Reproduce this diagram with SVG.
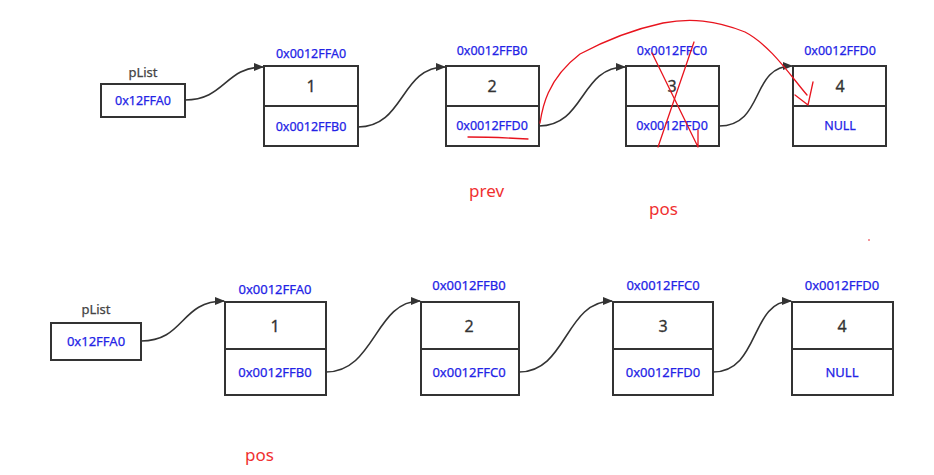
<svg xmlns="http://www.w3.org/2000/svg" width="934" height="475" viewBox="0 0 934 475">
<style>
.box{fill:#fff;stroke:#333;stroke-width:2}
.hex{font-family:"Noto Sans","Open Sans",sans-serif;font-size:12.5px;fill:#2323e6;text-anchor:middle;stroke:#2323e6;stroke-width:0.25}
.hb{font-size:13px}
.num{font-family:"Noto Sans","Open Sans",sans-serif;font-size:16px;fill:#333;text-anchor:middle;stroke:#333;stroke-width:0.3}
.lbl{font-family:"Noto Sans","Open Sans",sans-serif;font-size:13px;fill:#444;text-anchor:middle;stroke:#444;stroke-width:0.25}
.red{font-family:"Noto Sans","Open Sans",sans-serif;font-size:17px;fill:#f03030}
.con{fill:none;stroke:#333;stroke-width:1.6}
.ink{fill:none;stroke:#e8141e;stroke-width:1.3;stroke-linecap:round;stroke-linejoin:round}
</style>
<defs>
<marker id="ah" markerWidth="10" markerHeight="8" refX="9" refY="4" orient="auto" markerUnits="userSpaceOnUse">
<path d="M0,0 L10,4 L0,8 Z" fill="#333"/>
</marker>
</defs>

<!-- top row -->
<g id="t-plist">
<text class="lbl" x="143" y="77">pList</text>
<rect class="box" x="101" y="84" width="84" height="33"/>
<text class="hex" x="143" y="105">0x12FFA0</text>
</g>
<g id="t-n1">
<text class="hex" x="311" y="58">0x0012FFA0</text>
<rect class="box" x="264" y="66" width="94" height="80"/>
<line x1="264" y1="106" x2="358" y2="106" stroke="#333" stroke-width="2"/>
<text class="num" x="311" y="92">1</text>
<text class="hex" x="311" y="131">0x0012FFB0</text>
</g>
<g id="t-n2">
<text class="hex" x="492" y="55">0x0012FFB0</text>
<rect class="box" x="446" y="66" width="93" height="80"/>
<line x1="446" y1="106" x2="539" y2="106" stroke="#333" stroke-width="2"/>
<text class="num" x="492" y="92">2</text>
<text class="hex" x="492" y="130">0x0012FFD0</text>
</g>
<g id="t-n3">
<text class="hex" x="672" y="55">0x0012FFC0</text>
<rect class="box" x="626" y="66" width="93" height="80"/>
<line x1="626" y1="106" x2="719" y2="106" stroke="#333" stroke-width="2"/>
<text class="num" x="672" y="92">3</text>
<text class="hex" x="672" y="130">0x0012FFD0</text>
</g>
<g id="t-n4">
<text class="hex" x="840" y="55">0x0012FFD0</text>
<rect class="box" x="793" y="66" width="93" height="80"/>
<line x1="793" y1="106" x2="886" y2="106" stroke="#333" stroke-width="2"/>
<text class="num" x="840" y="92">4</text>
<text class="hex" x="840" y="130">NULL</text>
</g>

<!-- bottom row -->
<g id="b-plist">
<text class="lbl" x="96" y="314">pList</text>
<rect class="box" x="51" y="323" width="90" height="37"/>
<text class="hex hb" x="96" y="346">0x12FFA0</text>
</g>
<g id="b-n1">
<text class="hex hb" x="275" y="294">0x0012FFA0</text>
<rect class="box" x="225" y="302" width="101" height="93"/>
<line x1="225" y1="349" x2="326" y2="349" stroke="#333" stroke-width="2"/>
<text class="num" x="275" y="332">1</text>
<text class="hex hb" x="275" y="377">0x0012FFB0</text>
</g>
<g id="b-n2">
<text class="hex hb" x="469" y="290">0x0012FFB0</text>
<rect class="box" x="421" y="302" width="98" height="93"/>
<line x1="421" y1="349" x2="519" y2="349" stroke="#333" stroke-width="2"/>
<text class="num" x="469" y="332">2</text>
<text class="hex hb" x="469" y="377">0x0012FFC0</text>
</g>
<g id="b-n3">
<text class="hex hb" x="663" y="290">0x0012FFC0</text>
<rect class="box" x="613" y="302" width="100" height="93"/>
<line x1="613" y1="349" x2="713" y2="349" stroke="#333" stroke-width="2"/>
<text class="num" x="663" y="332">3</text>
<text class="hex hb" x="663" y="377">0x0012FFD0</text>
</g>
<g id="b-n4">
<text class="hex hb" x="842" y="290">0x0012FFD0</text>
<rect class="box" x="792" y="302" width="101" height="93"/>
<line x1="792" y1="349" x2="893" y2="349" stroke="#333" stroke-width="2"/>
<text class="num" x="842" y="332">4</text>
<text class="hex hb" x="842" y="377">NULL</text>
</g>

<!-- connectors -->
<g id="connectors">
<path class="con" marker-end="url(#ah)" d="M185,100 C225,100 225,67 263,67"/>
<path class="con" marker-end="url(#ah)" d="M358,127 C405,127 400,67 445,67"/>
<path class="con" marker-end="url(#ah)" d="M539,126 C585,126 580,67 625,67"/>
<path class="con" marker-end="url(#ah)" d="M719,126 C765,126 750,66 792,66"/>
<path class="con" marker-end="url(#ah)" d="M141,341 C185,341 180,301 224,301"/>
<path class="con" marker-end="url(#ah)" d="M326,372 C375,372 375,301 420,301"/>
<path class="con" marker-end="url(#ah)" d="M519,372 C567,372 565,301 612,301"/>
<path class="con" marker-end="url(#ah)" d="M713,372 C760,372 750,301 791,301"/>
</g>

<!-- red annotations -->
<g id="annotations">
<path class="ink" d="M540,123 C542,110 546,80 580,54 C610,38 640,28 663,23 C690,18 715,20 745,32 C770,45 790,75 807,95"/>
<path class="ink" d="M795,95 L808,105 L813,82"/>
<path class="ink" d="M694,42 L658,147"/>
<path class="ink" d="M652,53 L698,147 L698,130"/>
<path class="ink" d="M468,137 C490,137 510,138 528,139"/>
<circle cx="869" cy="240" r="0.8" fill="#e8141e"/>
<text class="red" x="469" y="197">prev</text>
<text class="red" x="649" y="215">pos</text>
<text class="red" x="245" y="461">pos</text>
</g>
</svg>
